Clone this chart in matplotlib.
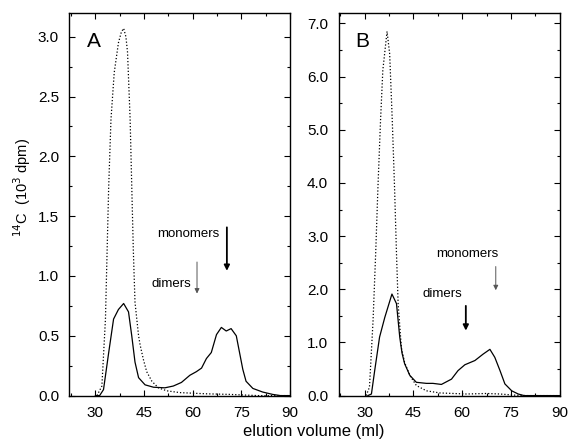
import numpy as np
import matplotlib.pyplot as plt
from matplotlib.ticker import MultipleLocator

plt.rcParams['font.family'] = ['Liberation Sans', 'DejaVu Sans']

# PANEL A
a_solid_x = [30, 31.3, 32.5, 34.1, 35.6, 37.1, 38.7, 40.2, 41.2, 42.2, 43.3, 44.3, 45.3, 47.9,
             51.4, 54.0, 56.5, 59.1, 61.1, 62.7, 64.2, 65.7, 67.3, 68.8, 70.3, 71.8, 73.4,
             74.4, 75.4, 76.4, 78.5, 81.5, 84.6, 87, 90]
a_solid_y = [0, 0, 0.05, 0.36, 0.64, 0.72, 0.77, 0.70, 0.50, 0.28, 0.15, 0.12, 0.09, 0.07,
             0.065, 0.08, 0.11, 0.17, 0.20, 0.23, 0.31, 0.36, 0.51, 0.57, 0.54, 0.56, 0.50,
             0.36, 0.22, 0.12, 0.06, 0.03, 0.01, 0, 0]
a_dot_x = [30.5, 32.0, 33.1, 33.6, 34.1, 34.8, 35.8, 37.1, 38.0, 38.7, 39.4, 39.9, 40.7, 41.2,
           41.7, 42.2, 43.3, 43.8, 44.8, 45.8, 47.4, 49.4, 52, 56, 64.2, 71.3, 80, 90]
a_dot_y = [0, 0.08, 0.64, 1.20, 1.75, 2.31, 2.70, 2.95, 3.04, 3.07, 3.00, 2.87, 2.31, 1.75,
           1.20, 0.78, 0.50, 0.42, 0.30, 0.20, 0.12, 0.065, 0.04, 0.025, 0.015, 0.01, 0.0, 0]

# PANEL B
b_solid_x = [31.0, 32.1, 33.1, 34.6, 36.2, 38.4, 39.8, 40.8, 41.5, 42.3, 43.9, 45.9, 49.0,
             51.0, 53.6, 56.7, 58.7, 60.8, 63.9, 66.4, 68.5, 70.0, 71.6, 73.1, 75.2, 77.2, 79, 90]
b_solid_y = [0, 0.03, 0.47, 1.10, 1.47, 1.91, 1.73, 1.10, 0.80, 0.60, 0.38, 0.25, 0.23,
             0.23, 0.21, 0.31, 0.47, 0.58, 0.66, 0.78, 0.87, 0.72, 0.47, 0.22, 0.09, 0.03, 0, 0]
b_dot_x = [30.5, 31.5, 32.6, 33.4, 34.1, 34.9, 35.6, 36.9, 37.7, 38.5, 39.2, 39.8, 40.3, 41.3,
           42.3, 43.9, 45.9, 49.0, 53.1, 61.3, 67.5, 71.6, 75.7, 80, 90]
b_dot_y = [0, 0.16, 1.41, 2.67, 3.92, 5.18, 6.12, 6.85, 6.43, 5.18, 3.92, 2.67, 1.73, 0.90,
           0.62, 0.38, 0.19, 0.09, 0.05, 0.03, 0.04, 0.03, 0.01, 0, 0]

xticks = [30, 45, 60, 75, 90]
a_yticks = [0.0, 0.5, 1.0, 1.5, 2.0, 2.5, 3.0]
b_yticks = [0.0, 1.0, 2.0, 3.0, 4.0, 5.0, 6.0, 7.0]

fig = plt.figure(figsize=(5.69, 4.43), dpi=100)
axA = fig.add_axes([0.122, 0.107, 0.388, 0.864])
axB = fig.add_axes([0.595, 0.107, 0.389, 0.864])

def style(ax, ymax, yticks, yminor):
    ax.set_xlim(22, 90)
    ax.set_ylim(0, ymax)
    ax.set_xticks(xticks)
    ax.xaxis.set_minor_locator(MultipleLocator(7.5))
    ax.set_yticks(yticks)
    ax.set_yticklabels(['%.1f' % v for v in yticks])
    ax.yaxis.set_minor_locator(MultipleLocator(yminor))
    ax.tick_params(which='both', direction='in', top=True, right=True, labelsize=11, width=0.8)
    ax.tick_params(which='major', length=4, pad=7.5)
    ax.tick_params(which='minor', length=2.5)
    for s in ax.spines.values():
        s.set_linewidth(1.0)

axA.plot(a_dot_x, a_dot_y, color='black', lw=0.9, linestyle=(0, (1, 1.6)))
axA.plot(a_solid_x, a_solid_y, color='black', lw=0.9)
style(axA, 3.2, a_yticks, 0.25)
axA.text(0.08, 0.95, 'A', transform=axA.transAxes, fontsize=15, va='top', ha='left')
axA.text(49.0, 1.35, 'monomers', fontsize=9.5, va='center', ha='left')
axA.annotate('', xy=(70.5, 1.02), xytext=(70.5, 1.43),
             arrowprops=dict(arrowstyle='-|>', color='black', lw=1.3, mutation_scale=8))
axA.text(47.4, 0.93, 'dimers', fontsize=9.5, va='center', ha='left')
axA.annotate('', xy=(61.3, 0.83), xytext=(61.3, 1.14),
             arrowprops=dict(arrowstyle='-|>', color='#555555', lw=0.7, mutation_scale=7))

axB.plot(b_dot_x, b_dot_y, color='black', lw=0.9, linestyle=(0, (1, 1.6)))
axB.plot(b_solid_x, b_solid_y, color='black', lw=0.9)
style(axB, 7.2, b_yticks, 0.5)
axB.text(0.075, 0.95, 'B', transform=axB.transAxes, fontsize=15, va='top', ha='left')
axB.text(52.0, 2.67, 'monomers', fontsize=9.5, va='center', ha='left')
axB.annotate('', xy=(70.3, 1.93), xytext=(70.3, 2.48),
             arrowprops=dict(arrowstyle='-|>', color='#555555', lw=0.7, mutation_scale=7))
axB.text(47.8, 1.92, 'dimers', fontsize=9.5, va='center', ha='left')
axB.annotate('', xy=(61.1, 1.17), xytext=(61.1, 1.74),
             arrowprops=dict(arrowstyle='-|>', color='black', lw=1.3, mutation_scale=8))

fig.text(0.039, 0.577, '$^{14}$C  (10$^{3}$ dpm)', rotation=90, fontsize=10.5,
         va='center', ha='center')
fig.text(0.552, 0.025, 'elution volume (ml)', fontsize=12, va='center', ha='center')

fig.savefig('out.png', dpi=100)
